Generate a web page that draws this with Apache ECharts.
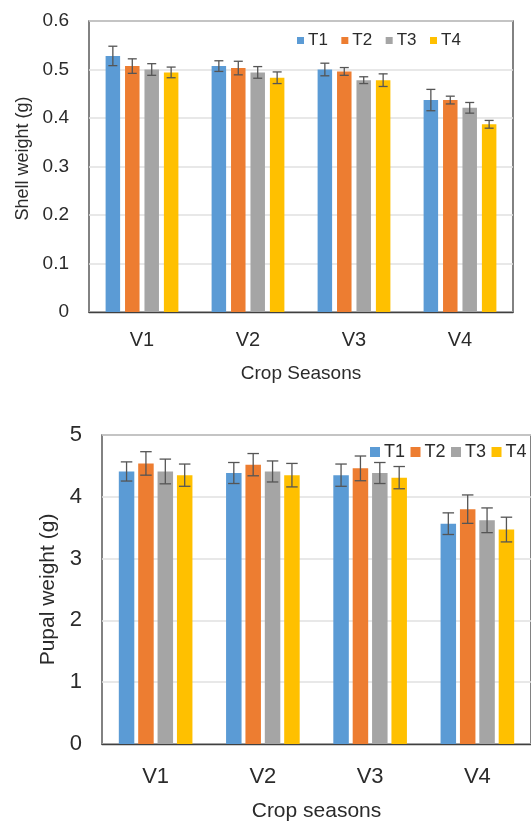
<!DOCTYPE html>
<html>
<head>
<meta charset="utf-8">
<script src="https://cdn.jsdelivr.net/npm/echarts@6/dist/echarts.min.js"></script>
<style>
  html, body { margin: 0; padding: 0; background: #fff; }
  #chart { width: 531px; height: 825px; }
</style>
</head>
<body>
<div id="chart"></div>
<script>
// ---- data ----
const categories = ['V1', 'V2', 'V3', 'V4'];
const treatments = ['T1', 'T2', 'T3', 'T4'];

const shellT1 = [0.528, 0.507, 0.500, 0.437];
const shellT2 = [0.507, 0.503, 0.496, 0.437];
const shellT3 = [0.500, 0.494, 0.478, 0.421];
const shellT4 = [0.494, 0.483, 0.478, 0.387];
const shellErrT1 = [0.020, 0.011, 0.013, 0.022];
const shellErrT2 = [0.015, 0.014, 0.008, 0.008];
const shellErrT3 = [0.012, 0.012, 0.007, 0.011];
const shellErrT4 = [0.011, 0.012, 0.013, 0.008];

const pupalT1 = [4.41, 4.385, 4.35, 3.565];
const pupalT2 = [4.54, 4.52, 4.46, 3.80];
const pupalT3 = [4.41, 4.41, 4.385, 3.62];
const pupalT4 = [4.35, 4.35, 4.31, 3.47];
const pupalErrT1 = [0.155, 0.17, 0.18, 0.175];
const pupalErrT2 = [0.19, 0.18, 0.20, 0.23];
const pupalErrT3 = [0.20, 0.17, 0.17, 0.20];
const pupalErrT4 = [0.18, 0.19, 0.18, 0.20];

const shellTicks = ['0', '0.1', '0.2', '0.3', '0.4', '0.5', '0.6'];
const pupalTicks = ['0', '1', '2', '3', '4', '5'];

// ---- styles ----
const colors = ['#5B9BD5', '#ED7D31', '#A5A5A5', '#FFC000'];
const FONT = 'Liberation Sans, Arial, sans-serif';
const TXT = '#2b2b2b';

const shellVals = [shellT1, shellT2, shellT3, shellT4];
const shellErrs = [shellErrT1, shellErrT2, shellErrT3, shellErrT4];
const pupalVals = [pupalT1, pupalT2, pupalT3, pupalT4];
const pupalErrs = [pupalErrT1, pupalErrT2, pupalErrT3, pupalErrT4];

function errorSeries(vals, errs, idx, gridIdx, step, capW, name) {
  const data = vals.map((v, i) => [i, v - errs[i], v + errs[i]]);
  const offset = (idx - 1.5) * step;
  return {
    type: 'custom',
    name: name,
    xAxisIndex: gridIdx,
    yAxisIndex: gridIdx,
    z: 10,
    silent: true,
    encode: { x: 0, y: [1, 2] },
    data: data,
    renderItem: function (params, api) {
      const lo = api.coord([api.value(0), api.value(1)]);
      const hi = api.coord([api.value(0), api.value(2)]);
      const x = lo[0] + offset;
      const st = { stroke: '#555555', lineWidth: 1.3 };
      return {
        type: 'group',
        children: [
          { type: 'line', shape: { x1: x, y1: lo[1], x2: x, y2: hi[1] }, style: st },
          { type: 'line', shape: { x1: x - capW / 2, y1: lo[1], x2: x + capW / 2, y2: lo[1] }, style: st },
          { type: 'line', shape: { x1: x - capW / 2, y1: hi[1], x2: x + capW / 2, y2: hi[1] }, style: st }
        ]
      };
    }
  };
}

const series = [];
treatments.forEach((t, i) => {
  series.push({
    type: 'bar', name: t, xAxisIndex: 0, yAxisIndex: 0,
    data: shellVals[i], barWidth: 14.5, barGap: '34%',
    itemStyle: { color: colors[i] }
  });
});
treatments.forEach((t, i) => {
  series.push({
    type: 'bar', name: t, xAxisIndex: 1, yAxisIndex: 1,
    data: pupalVals[i], barWidth: 15.5, barGap: '25%',
    itemStyle: { color: colors[i] }
  });
});
treatments.forEach((t, i) => {
  series.push(errorSeries(shellVals[i], shellErrs[i], i, 0, 19.43, 9, 'errS' + t));
  series.push(errorSeries(pupalVals[i], pupalErrs[i], i, 1, 19.375, 11.5, 'errP' + t));
});

const chart = echarts.init(document.getElementById('chart'), null, { renderer: 'canvas' });
chart.setOption({
  animation: false,
  backgroundColor: '#ffffff',
  color: colors,
  textStyle: { fontFamily: FONT },
  grid: [
    { left: 89, top: 21, width: 424, height: 291, show: true, borderColor: '#404040', borderWidth: 1.3, containLabel: false },
    { left: 102, top: 435, width: 430, height: 309, show: true, borderColor: '#404040', borderWidth: 1.3, containLabel: false }
  ],
  legend: [
    {
      data: treatments, left: 297, top: 32, padding: 0, itemWidth: 7, itemHeight: 7, itemGap: 13.5,
      icon: 'rect', textStyle: { fontSize: 17, color: TXT, fontFamily: FONT, padding: [0, 0, 0, -1] }
    },
    {
      data: treatments, left: 370, top: 443, padding: 0, itemWidth: 10, itemHeight: 10, itemGap: 5.5,
      icon: 'rect', textStyle: { fontSize: 18, color: TXT, fontFamily: FONT, padding: [0, 0, 0, -1] }
    }
  ],
  xAxis: [
    {
      type: 'category', gridIndex: 0, data: categories,
      axisLine: { lineStyle: { color: '#404040', width: 1.3 } },
      axisTick: { show: false },
      axisLabel: { fontSize: 20, color: TXT, margin: 18, fontFamily: FONT },
      name: 'Crop Seasons', nameLocation: 'middle', nameGap: 52,
      nameTextStyle: { fontSize: 19, color: TXT, fontFamily: FONT }
    },
    {
      type: 'category', gridIndex: 1, data: categories,
      axisLine: { lineStyle: { color: '#404040', width: 1.3 } },
      axisTick: { show: false },
      axisLabel: { fontSize: 22, color: TXT, margin: 22, fontFamily: FONT },
      name: 'Crop seasons', nameLocation: 'middle', nameGap: 57,
      nameTextStyle: { fontSize: 21, color: TXT, fontFamily: FONT }
    }
  ],
  yAxis: [
    {
      type: 'value', gridIndex: 0, min: 0, max: 0.6, interval: 0.1,
      axisLine: { show: false }, axisTick: { show: false },
      splitLine: { lineStyle: { color: '#e0e0e0', width: 1.5 } },
      axisLabel: {
        fontSize: 19, color: TXT, margin: 20, fontFamily: FONT,
        formatter: function (v) { return shellTicks[Math.round(v * 10)]; }
      },
      name: 'Shell weight (g)', nameLocation: 'middle', nameGap: 57,
      nameTextStyle: { fontSize: 18, color: TXT, fontFamily: FONT, padding: [0, 0, 0, 16] }
    },
    {
      type: 'value', gridIndex: 1, min: 0, max: 5, interval: 1,
      axisLine: { show: false }, axisTick: { show: false },
      splitLine: { lineStyle: { color: '#e0e0e0', width: 1.5 } },
      axisLabel: {
        fontSize: 22, color: TXT, margin: 20, fontFamily: FONT,
        formatter: function (v) { return pupalTicks[Math.round(v)]; }
      },
      name: 'Pupal weight (g)', nameLocation: 'middle', nameGap: 42,
      nameTextStyle: { fontSize: 21, color: TXT, fontFamily: FONT }
    }
  ],
  series: series
});
</script>
</body>
</html>
